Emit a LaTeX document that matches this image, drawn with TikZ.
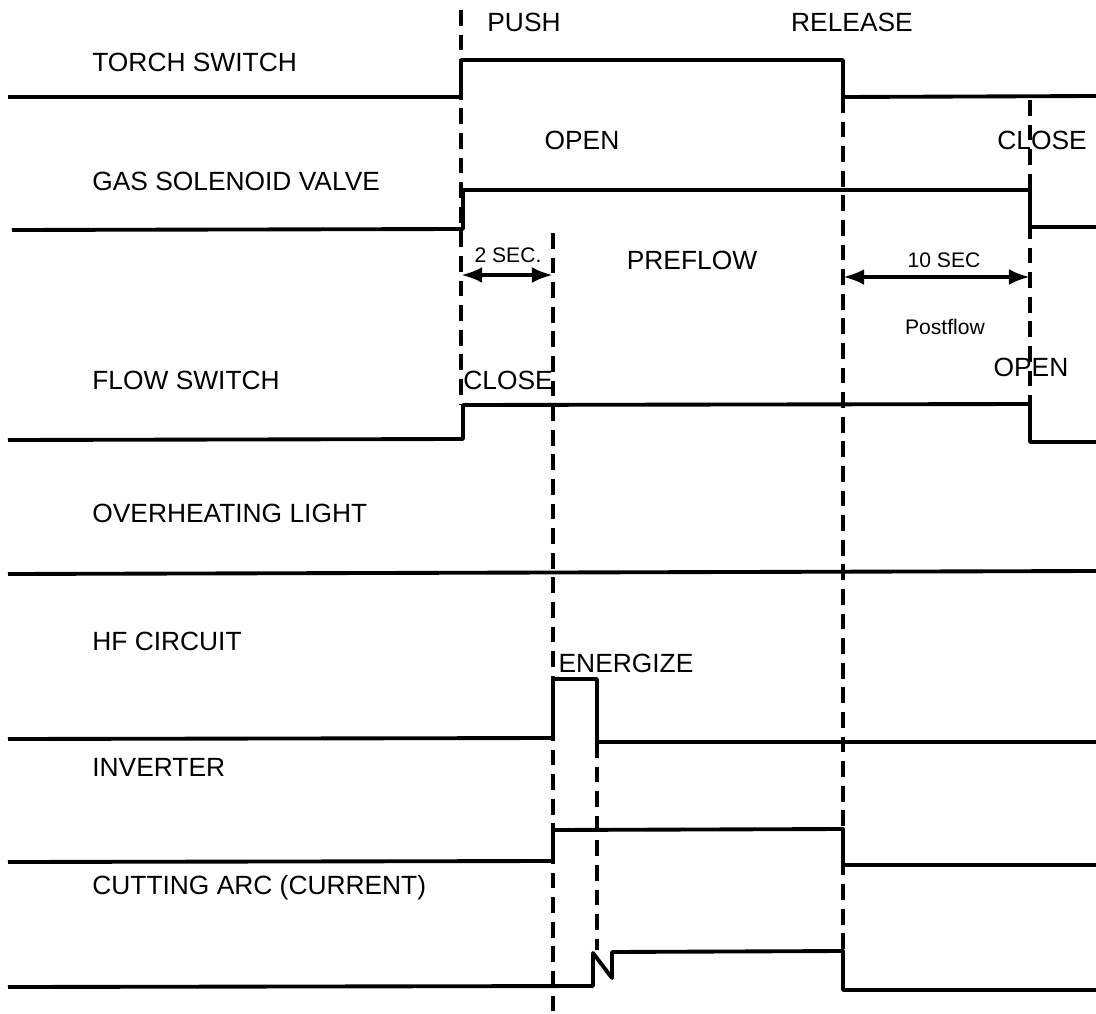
\documentclass[tikz,border=0pt]{standalone}
\usepackage{fontspec}
\setmainfont{Liberation Sans}
\usetikzlibrary{arrows.meta}

\begin{document}
\begin{tikzpicture}[x=0.02cm,y=-0.02cm,
    sig/.style={line width=2.2pt,line join=round},
    guide/.style={line width=2.2pt,dash pattern=on 9pt off 5pt},
    lbl/.style={font=\fontsize{15}{18}\selectfont,inner sep=0pt},
    small/.style={font=\fontsize{12}{14}\selectfont,inner sep=0pt},
    span/.style={line width=2.2pt,{Latex[length=12pt,width=9pt]}-{Latex[length=12pt,width=9pt]}}]
        \useasboundingbox (0,0) rectangle (1096,1014);
        % signal names
        \node[lbl,anchor=west] (torch) at (92,62) {TORCH SWITCH};
        \node[lbl,anchor=west] (gas) at (92,181) {GAS SOLENOID VALVE};
        \node[lbl,anchor=west] (flow) at (92,380) {FLOW SWITCH};
        \node[lbl,anchor=west] (heat) at (92,513) {OVERHEATING LIGHT};
        \node[lbl,anchor=west] (hf) at (92,641) {HF CIRCUIT};
        \node[lbl,anchor=west] (inv) at (92,767) {INVERTER};
        \node[lbl,anchor=west] (arc) at (92,888) {CUTTING ARC (CURRENT)};
        % timing lines
        \draw[guide] (461,10) -- (461,405);
        \draw[guide] (553,233) -- (553,1014);
        \draw[guide] (597,742) -- (597,950);
        \draw[guide] (843,97) -- (843,950);
        \draw[guide] (1030,100) -- (1030,405);
        % signals
        \draw[sig] (8,97) -- (461,97) -- (461,60) -- (843,60) -- (843,97) -- (1096,96);
        \draw[sig] (12,230) -- (463,229) -- (463,190) -- (1030,190) -- (1030,227) -- (1096,227);
        \draw[sig] (8,440) -- (463,439) -- (463,405) -- (1030,404) -- (1030,442) -- (1096,442);
        \draw[sig] (8,574) -- (1096,571);
        \draw[sig] (8,739) -- (553,738) -- (553,679) -- (597,679) -- (597,742) -- (1096,742);
        \draw[sig] (8,862) -- (553,861) -- (553,830) -- (843,829) -- (843,865) -- (1096,865);
        \draw[sig] (8,987) -- (593,986) -- (593,953) -- (612,978) -- (612,952) -- (843,951) -- (843,990) -- (1096,990);
        % times
        \draw[span] (461,275) -- (553,275);
        \draw[span] (843,277) -- (1030,277);
        % states
        \node[lbl] (push) at (524,22) {PUSH};
        \node[lbl] (release) at (852,22) {RELEASE};
        \node[lbl] (open) at (582,140) {OPEN};
        \node[lbl] (close) at (1042,140) {CLOSE};
        \node[small] (two) at (508,255) {2 SEC.};
        \node[lbl] (pre) at (692,260) {PREFLOW};
        \node[small] (ten) at (944,260) {10 SEC};
        \node[small] (post) at (945,327) {Postflow};
        \node[lbl] (fclose) at (508,380) {CLOSE};
        \node[lbl] (fopen) at (1031,367) {OPEN};
        \node[lbl] (energ) at (626,663) {ENERGIZE};
    \end{tikzpicture}
\end{document}
